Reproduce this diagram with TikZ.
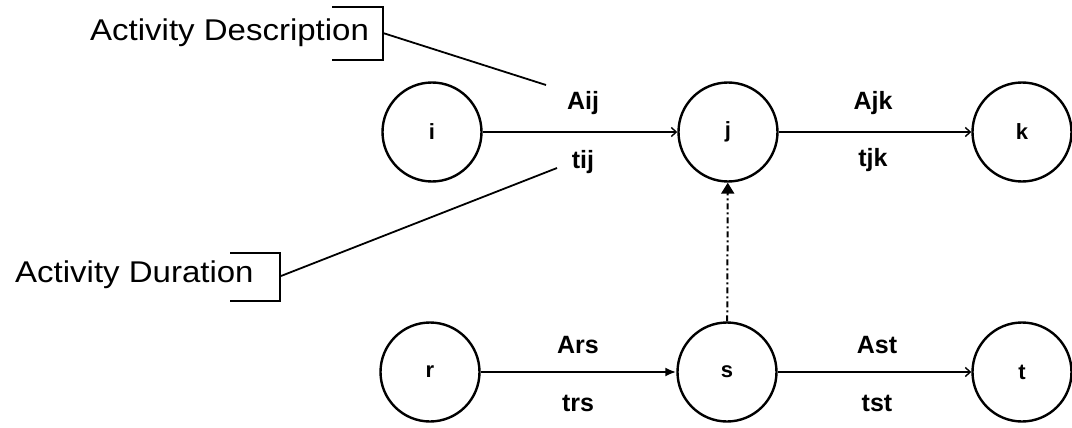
\documentclass[tikz,border=0pt]{standalone}
\usepackage{fontspec}
\setmainfont{Liberation Sans}
\newfontfamily\calloutfont[FakeStretch=1.1]{Liberation Sans}
\usetikzlibrary{arrows.meta}
\begin{document}
\begin{tikzpicture}[x=1pt,y=-1pt,
  event/.style={circle,draw,line width=2.4pt,minimum size=99pt,inner sep=0pt,font=\fontsize{22}{24}\selectfont\bfseries},
  act/.style={line width=2.8pt,-{Straight Barb[length=5pt,width=9pt,line width=1.4pt]}},
  lab/.style={font=\fontsize{25}{27}\selectfont\bfseries,inner sep=0pt},
  callout/.style={font=\calloutfont\fontsize{30}{32}\selectfont,inner sep=0pt,anchor=west},
  lead/.style={line width=1.8pt}]
\useasboundingbox (0,0) rectangle (1072,428);
% events
\node[event] (i) at (432,132) {i};
\node[event] (j) at (728,132) {j};
\node[event] (k) at (1022,132) {k};
\node[event] (r) at (430,372) {r};
\node[event] (s) at (727,372) {s};
\node[event] (t) at (1022,372) {t};
% activities
\draw[act] (i) -- (j);
\draw[act] (j) -- (k);
\draw[line width=2.2pt,-{Latex[length=11pt,width=9pt]}] (r) -- (s);
\draw[act] (s) -- (t);
\draw[line width=2pt,dash pattern=on 6pt off 3pt on 2pt off 3pt,-{Triangle[length=11pt,width=13pt]}] (s) -- (j);
% labels
\node[lab] (aij) at (583,103) {Aij};
\node[lab] (tij) at (583,162) {tij};
\node[lab] (ajk) at (873,103) {Ajk};
\node[lab] (tjk) at (873,160) {tjk};
\node[lab] (ars) at (578,345) {Ars};
\node[lab] (trs) at (578,403) {trs};
\node[lab] (ast) at (877,345) {Ast};
\node[lab] (tst) at (877,403) {tst};
% callouts
\node[callout] (desc) at (90,33) {Activity Description};
\node[callout] (dur) at (15,275) {Activity Duration};
\coordinate (descbr) at (383,33);
\coordinate (durbr) at (281,276);
\coordinate (desctip) at (546,85);
\coordinate (durtip) at (557,168);
\draw[line width=1.8pt] (332,7) -- (383,7) -- (383,60) -- (332,60);
\draw[line width=1.8pt] (230,253) -- (280,253) -- (280,301) -- (230,301);
\draw[lead] (descbr) -- (desctip);
\draw[lead] (durbr) -- (durtip);
\end{tikzpicture}
\end{document}
